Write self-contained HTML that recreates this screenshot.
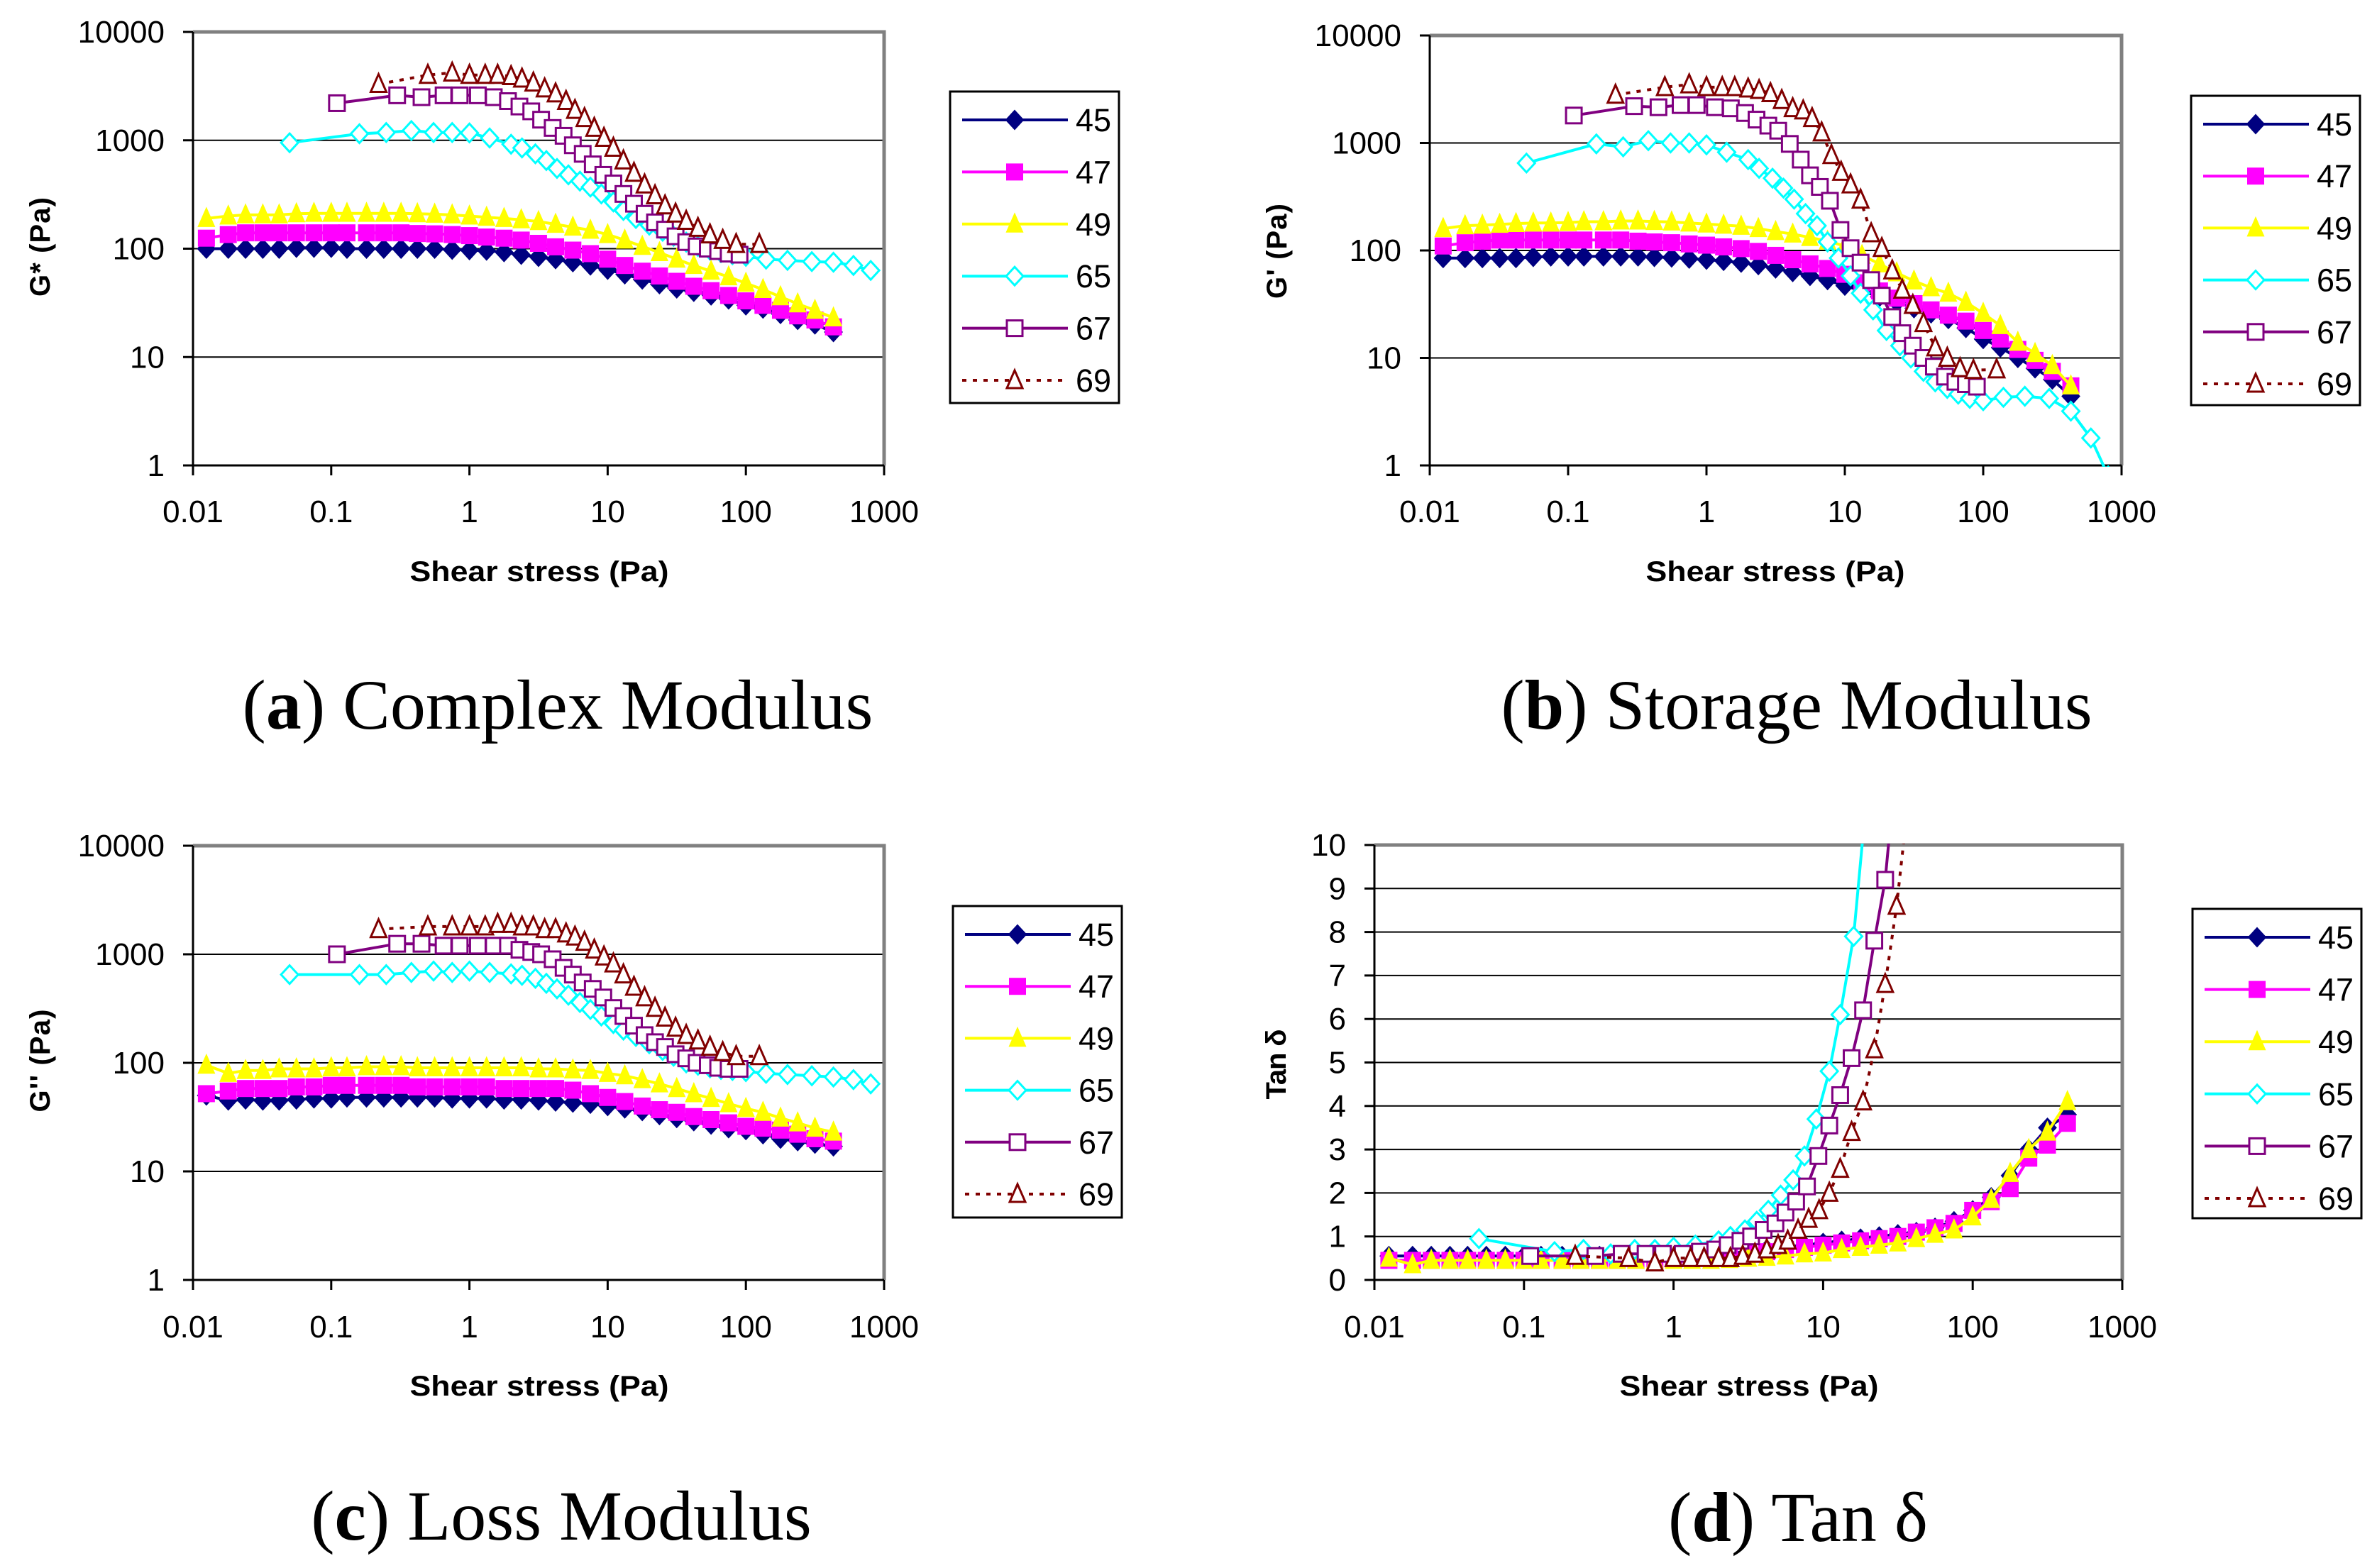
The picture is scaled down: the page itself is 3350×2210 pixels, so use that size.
<!DOCTYPE html>
<html><head><meta charset="utf-8"><style>
html,body{margin:0;padding:0;background:#fff}
svg{display:block}
text{font-family:"Liberation Sans",sans-serif}
.cap{font-family:"Liberation Serif",serif;font-size:100px}
</style></head><body>
<svg id="fig" xmlns="http://www.w3.org/2000/svg" width="3350" height="2210" viewBox="0 0 3350 2210">
<rect x="0" y="0" width="3350" height="2210" fill="#fff"/>
<text class="cap" x="786" y="1027" text-anchor="middle">(<tspan font-weight="bold">a</tspan>) Complex Modulus</text>
<text class="cap" x="2532" y="1027" text-anchor="middle">(<tspan font-weight="bold">b</tspan>) Storage Modulus</text>
<text class="cap" x="791" y="2170" text-anchor="middle">(<tspan font-weight="bold">c</tspan>) Loss Modulus</text>
<text class="cap" x="2534" y="2172" text-anchor="middle">(<tspan font-weight="bold">d</tspan>) Tan δ</text>
</svg>
<script>
// shared shear stress (x) values
const X_A = [0.0125,0.018,0.024,0.032,0.042,0.056,0.075,0.1,0.13,0.18,0.24,0.32,0.42,0.56,0.75,1,1.33,1.78,2.37,3.16,4.2,5.6,7.5,10,13.3,17.8,23.7,31.6,42,56,75,100,133,178,237,316,430];
const X_65 = [0.05,0.16,0.25,0.38,0.55,0.75,1,1.4,2,2.4,3,3.6,4.3,5.2,6.3,7.5,9,11,13,16,20,25,30,37,45,55,66,80,100,140,200,300,430,600,800];
const X_67 = [0.11,0.3,0.45,0.65,0.85,1.15,1.5,1.9,2.3,2.8,3.3,4,4.8,5.6,6.6,7.8,9.3,11,13,15.5,18.5,22,26,31,37,44,53,63,75,90];
const X_69 = [0.22,0.5,0.75,1,1.3,1.6,2,2.4,2.9,3.5,4.2,5,5.8,6.8,8,9.4,11,13,15.5,18.5,22,26,31,37,45,55,68,85,125];
const SERIES_NAMES = ["45","47","49","65","67","69"];
const X_TICKS = ["0.01","0.1","1","10","100","1000"];
const Y_TICKS_LOG = ["1","10","100","1000","10000"];
const Y_TICKS_LIN = ["0","1","2","3","4","5","6","7","8","9","10"];

// (a) complex modulus G*
const gstar45 = [100,100,100,100,100,102,102,102,100,100,100,100,100,100,98,97,96,93,88,84,80,75,70,64,58,52,47,43,40,37,34,30,28,25,22,20,17];
const gstar47 = [125,135,140,140,140,140,140,140,140,140,140,140,138,137,135,132,128,125,120,112,104,97,90,80,70,62,56,50,45,41,37,33,30,27,24,22,19];
const gstar49 = [190,200,205,205,205,210,212,212,212,212,212,212,210,208,205,200,195,190,185,178,168,158,148,135,120,105,92,80,70,62,55,48,42,36,31,27,23];
const gstar65 = [950,1150,1180,1230,1180,1180,1170,1050,920,850,750,650,550,480,420,370,320,270,225,190,165,145,130,115,105,97,92,88,85,80,78,76,75,70,63];
const gstar67 = [2200,2600,2500,2600,2600,2600,2500,2300,2050,1850,1550,1300,1100,900,750,600,480,400,320,260,210,175,150,130,115,105,100,95,90,88];
const gstar69 = [3300,4000,4200,4000,4000,4000,3900,3700,3400,3000,2700,2300,1900,1600,1300,1050,850,650,500,390,310,250,210,180,155,135,120,110,110];

// (b) storage modulus G'
const gp45 = [85,85,85,85,85,87,88,88,88,88,88,88,87,86,84,82,80,77,73,68,63,58,53,47,42,37,33,29,26,23,19,15,12.5,10,8,6.3,4.4];
const gp47 = [110,118,122,125,125,125,125,125,125,125,125,122,120,118,115,112,108,104,98,90,82,75,68,60,50,42,36,32,28,25,22,18,15,12,9.5,7.5,5.5];
const gp49 = [160,170,172,175,178,180,180,182,185,185,188,188,186,184,180,176,172,168,160,150,142,132,122,110,90,75,62,52,45,40,33,26,20,14,11,8.5,5.5];
const gp65 = [650,980,920,1050,1000,1000,960,820,700,580,470,380,300,220,170,120,85,58,40,28,18,13,10,7.5,6,5.2,4.6,4.2,4,4.3,4.4,4.2,3.2,1.8,0.8];
const gp67 = [1800,2200,2150,2250,2250,2150,2100,1900,1650,1450,1300,980,700,500,390,290,155,105,77,53,38,24,17,13,10,8.3,6.7,6,5.7,5.4];
const gp69 = [2800,3300,3500,3300,3300,3300,3200,3100,2900,2500,2100,2000,1700,1250,770,537,410,296,144,105,65,43,31,21,12.5,10,8,7.7,7.8];

// (c) loss modulus G''
const gpp45 = [50,45,46,45,45,46,47,47,48,48,48,48,48,48,47,47,47,46,46,45,44,43,42,40,38,36,33,31,29,27,25,24,22,20,19,18,17];
const gpp47 = [52,55,58,58,58,60,60,62,62,62,62,62,60,60,60,60,60,58,58,58,58,56,52,48,44,40,37,35,32,30,28,26,25,24,22,20,19];
const gpp49 = [95,80,85,85,88,88,88,90,90,92,92,92,90,90,90,90,90,90,90,88,88,86,85,80,76,70,64,58,52,47,42,38,35,31,28,25,23];
const gpp65 = [650,650,650,680,700,680,700,680,660,640,600,540,480,420,360,310,270,230,200,175,150,130,115,100,95,90,87,85,83,80,78,76,74,70,64];
const gpp67 = [1000,1250,1250,1200,1200,1200,1200,1200,1100,1050,1000,900,750,650,550,480,400,320,270,220,180,155,140,120,110,100,95,90,88,88];
const gpp69 = [1700,1800,1800,1800,1800,1900,1900,1800,1800,1700,1700,1550,1450,1300,1100,950,820,650,500,400,320,260,210,180,160,140,125,115,115];

// (d) tan delta
const tan45 = [0.55,0.55,0.55,0.55,0.55,0.55,0.55,0.55,0.55,0.55,0.55,0.55,0.55,0.55,0.56,0.57,0.58,0.6,0.62,0.65,0.7,0.75,0.8,0.85,0.9,0.95,1.0,1.05,1.1,1.2,1.35,1.6,1.9,2.4,3.0,3.5,3.8];
const tan47 = [0.45,0.45,0.45,0.45,0.45,0.45,0.45,0.45,0.45,0.45,0.45,0.45,0.45,0.45,0.45,0.47,0.5,0.52,0.55,0.6,0.65,0.7,0.75,0.8,0.85,0.9,0.95,1.0,1.1,1.2,1.3,1.6,1.8,2.1,2.8,3.1,3.6];
const tan49 = [0.5,0.35,0.45,0.45,0.45,0.45,0.45,0.45,0.45,0.45,0.45,0.45,0.45,0.45,0.45,0.45,0.45,0.45,0.47,0.5,0.52,0.55,0.6,0.62,0.7,0.75,0.8,0.85,0.95,1.05,1.15,1.45,1.85,2.45,3.0,3.4,4.1];
const tan65 = [0.95,0.65,0.7,0.6,0.7,0.7,0.75,0.8,0.9,1.0,1.15,1.35,1.6,1.95,2.3,2.85,3.7,4.8,6.1,7.9,11.5];
const tan67 = [0.55,0.55,0.6,0.6,0.6,0.6,0.65,0.7,0.8,0.9,1.0,1.15,1.3,1.55,1.8,2.15,2.85,3.55,4.25,5.1,6.2,7.8,9.2,12];
const tan69 = [0.55,0.5,0.4,0.5,0.5,0.5,0.5,0.5,0.55,0.6,0.7,0.8,0.9,1.15,1.4,1.6,2.0,2.55,3.4,4.1,5.3,6.8,8.6,11];

const NS = "http://www.w3.org/2000/svg";
const svg = document.getElementById("fig");
const STY = [
 {c:"#000080",m:"diamond",fill:true,dash:null},
 {c:"#FF00FF",m:"square",fill:true,dash:null},
 {c:"#FFFF00",m:"triangle",fill:true,dash:null},
 {c:"#00FFFF",m:"diamond",fill:false,dash:null},
 {c:"#800080",m:"square",fill:false,dash:null},
 {c:"#800000",m:"triangle",fill:false,dash:"6,9"}
];
function mk(tag, attrs, parent){
  const e = document.createElementNS(NS, tag);
  for (const k in attrs) e.setAttribute(k, attrs[k]);
  (parent||svg).appendChild(e);
  return e;
}
function marker(g, m, x, y, col, fill){
  let e;
  const f = fill ? col : "#fff";
  if (m==="diamond") e = mk("polygon",{points:`${x},${y-13} ${x+12},${y} ${x},${y+13} ${x-12},${y}`,fill:f,stroke:col,"stroke-width":fill?2:3},g);
  else if (m==="square") e = mk("rect",{x:x-11,y:y-11,width:22,height:22,fill:f,stroke:col,"stroke-width":fill?2:3},g);
  else e = mk("polygon",{points:`${x},${y-14} ${x+11},${y+11} ${x-11},${y+11}`,fill:f,stroke:col,"stroke-width":fill?2:3},g);
  return e;
}
function panel(p){
  const g = mk("g",{});
  
  
  const sx = v => p.L + (Math.log10(v) + 2) / 5 * (p.R - p.L);
  const sy = p.log ? (v => p.B - Math.log10(v) / 4 * (p.B - p.T)) : (v => p.B - v / 10 * (p.B - p.T));
  const yt = p.log ? Y_TICKS_LOG : Y_TICKS_LIN;
  yt.forEach((t,i)=>{
    const y = sy(parseFloat(t));
    if (i>0 && i<yt.length-1) {
      const gl = mk("line",{x1:p.L,x2:p.R,y1:y,y2:y,stroke:"#000","stroke-width":2},g);
      
      
    }
    mk("line",{x1:p.L-14,x2:p.L,y1:y,y2:y,stroke:"#000","stroke-width":3},g);
    const tx = mk("text",{x:p.L-40,y:y+15,"text-anchor":"end","font-size":44},g);
    tx.textContent = t;
    
    
  });
  X_TICKS.forEach(t=>{
    const x = sx(parseFloat(t));
    mk("line",{x1:x,x2:x,y1:p.B,y2:p.B+14,stroke:"#000","stroke-width":3},g);
    const tx = mk("text",{x:x,y:p.xlY+15,"text-anchor":"middle","font-size":44},g);
    tx.textContent = t;
    
    
  });
  mk("polyline",{points:`${p.L},${p.T} ${p.R},${p.T} ${p.R},${p.B}`,fill:"none",stroke:"#808080","stroke-width":5},g);
  mk("polyline",{points:`${p.L},${p.T} ${p.L},${p.B} ${p.R},${p.B}`,fill:"none",stroke:"#000","stroke-width":3},g);
  const cid = "clip-" + p.id;
  const cp = mk("clipPath",{id:cid},g);
  mk("rect",{x:p.L,y:p.T-2,width:p.R-p.L,height:p.B-p.T+4},cp);
  const sg = mk("g",{"clip-path":`url(#${cid})`},g);
  p.series.forEach((s,k)=>{
    const st = STY[k];
    const xs = s.x, ys = s.y;
    const pts = ys.map((v,i)=>`${sx(xs[i]).toFixed(1)},${sy(v).toFixed(1)}`).join(" ");
    const ln = mk("polyline",{points:pts,fill:"none",stroke:st.c,"stroke-width":4},sg);
    if (st.dash) ln.setAttribute("stroke-dasharray", st.dash);
    
    
    ys.forEach((v,i)=>{
      const mm = marker(sg, st.m, sx(xs[i]), sy(v), st.c, st.fill);
      
      
    });
  });
  const xt = mk("text",{x:p.xtX,y:p.xtY+14,"text-anchor":"middle","font-size":40,"font-weight":"bold",textLength:365,lengthAdjust:"spacingAndGlyphs"},g);
  xt.textContent = "Shear stress (Pa)";
  
  
  const ytl = mk("text",{x:0,y:0,"text-anchor":"middle","font-size":40,"font-weight":"bold",textLength:p.ytLen,lengthAdjust:"spacing",transform:`translate(${p.ytX+14},${p.ytY}) rotate(-90)`},g);
  ytl.textContent = p.ytitle;
  
  
  const lg = mk("g",{},g);
  
  
  mk("rect",{x:p.lgX,y:p.lgY,width:238,height:p.lgH,fill:"#fff",stroke:"#000","stroke-width":3},lg);
  SERIES_NAMES.forEach((n,k)=>{
    const st = STY[k];
    const y = p.lgY + 40 + k * p.lgStep;
    const en = mk("g",{},lg);
    
    
    const l = mk("line",{x1:p.lgX+17,x2:p.lgX+166,y1:y,y2:y,stroke:st.c,"stroke-width":4},en);
    if (st.dash) l.setAttribute("stroke-dasharray", st.dash);
    marker(en, st.m, p.lgX+91, y, st.c, st.fill);
    const t = mk("text",{x:p.lgX+177,y:y+16,"font-size":45},en);
    t.textContent = n;
  });
}
panel({id:"a",L:272,R:1246,T:45,B:656,log:true,xlY:721,xtX:760,xtY:805,ytX:56,ytY:348,ytitle:"G* (Pa)",ytLen:140,lgX:1339,lgY:129,lgH:439,lgStep:73.4,
  series:[{x:X_A,y:gstar45},{x:X_A,y:gstar47},{x:X_A,y:gstar49},{x:X_65,y:gstar65},{x:X_67,y:gstar67},{x:X_69,y:gstar69}]});
panel({id:"b",L:2015,R:2990,T:50,B:656,log:true,xlY:721,xtX:2502,xtY:805,ytX:1799,ytY:354,ytitle:"G' (Pa)",ytLen:134,lgX:3088,lgY:135,lgH:436,lgStep:73.2,
  series:[{x:X_A,y:gp45},{x:X_A,y:gp47},{x:X_A,y:gp49},{x:X_65,y:gp65},{x:X_67,y:gp67},{x:X_69,y:gp69}]});
panel({id:"c",L:272,R:1246,T:1192,B:1804,log:true,xlY:1870,xtX:760,xtY:1953,ytX:56,ytY:1495,ytitle:"G'' (Pa)",ytLen:145,lgX:1343,lgY:1277,lgH:439,lgStep:73.2,
  series:[{x:X_A,y:gpp45},{x:X_A,y:gpp47},{x:X_A,y:gpp49},{x:X_65,y:gpp65},{x:X_67,y:gpp67},{x:X_69,y:gpp69}]});
panel({id:"d",L:1937,R:2991,T:1191,B:1804,log:false,xlY:1870,xtX:2465,xtY:1953,ytX:1798,ytY:1500,ytitle:"Tan δ",ytLen:99,lgX:3090,lgY:1281,lgH:436,lgStep:73.6,
  series:[{x:X_A,y:tan45},{x:X_A,y:tan47},{x:X_A,y:tan49},{x:X_65,y:tan65},{x:X_67,y:tan67},{x:X_69,y:tan69}]});
</script>
</body></html>
